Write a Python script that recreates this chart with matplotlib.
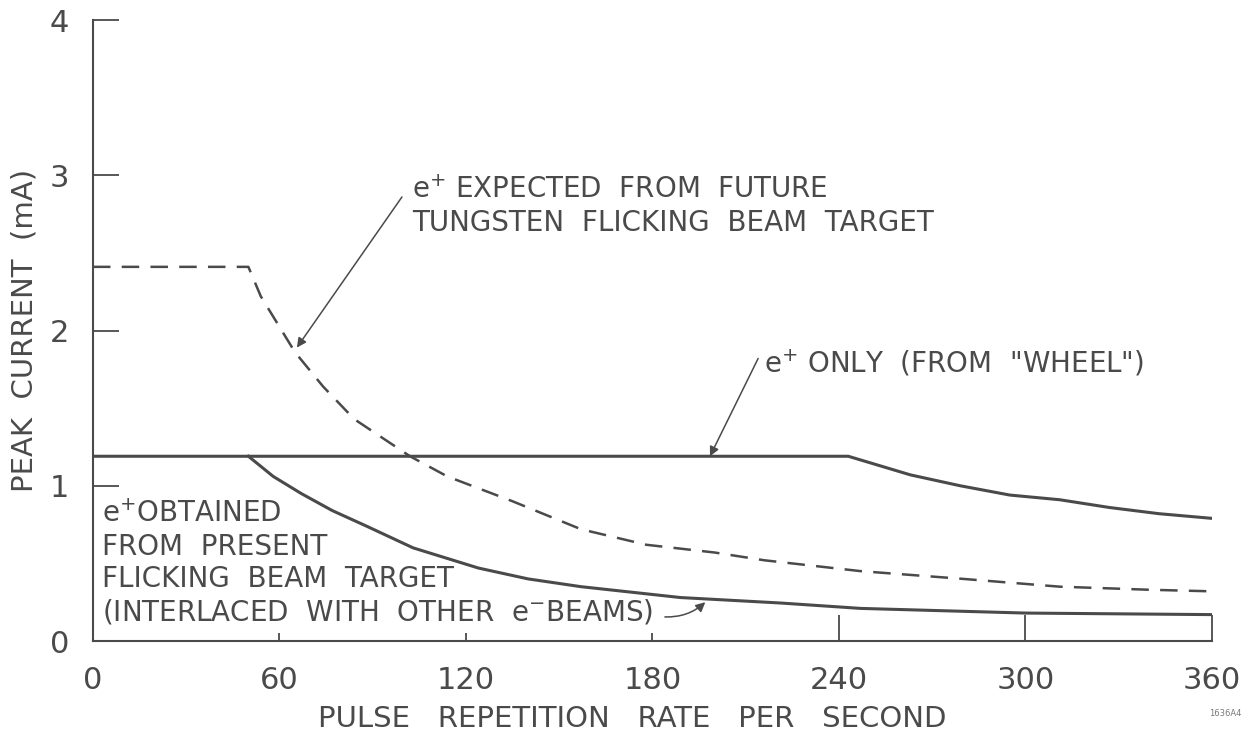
import numpy as np
import matplotlib.pyplot as plt

# peak current vs. pulse repetition rate
ink = '#4a4a4a'

rate_wheel = [0, 243, 263, 279, 295, 311, 327, 343, 360]
cur_wheel = [1.19, 1.19, 1.07, 1.00, 0.94, 0.91, 0.86, 0.82, 0.79]

rate_future = [0, 50, 54, 65, 74, 84, 102, 114, 135, 157, 178, 200, 216, 247, 280, 311, 340, 360]
cur_future = [2.41, 2.41, 2.22, 1.86, 1.64, 1.43, 1.19, 1.06, 0.90, 0.72, 0.62, 0.57, 0.52, 0.45, 0.40, 0.35, 0.33, 0.32]

rate_present = [50, 58, 67, 77, 88, 103, 124, 140, 157, 189, 221, 247, 300, 360]
cur_present = [1.19, 1.06, 0.95, 0.84, 0.74, 0.60, 0.47, 0.40, 0.35, 0.28, 0.245, 0.21, 0.18, 0.17]

xticks = [0, 60, 120, 180, 240, 300, 360]
yticks = [0, 1, 2, 3, 4]

fig = plt.figure(figsize=(12.58, 7.33), dpi=100)
ax = fig.add_axes([0.0739, 0.1255, 0.8895, 0.8472])

ax.plot(rate_wheel, cur_wheel, color=ink, lw=2.2, solid_joinstyle='round')
ax.plot(rate_present, cur_present, color=ink, lw=2.2, solid_joinstyle='round')
ax.plot(rate_future, cur_future, color=ink, lw=1.8, dashes=(7, 4.5))

ax.set_xlim(0, 360)
ax.set_ylim(0, 4)
for s in ['top', 'right']:
    ax.spines[s].set_visible(False)
for s in ['left', 'bottom']:
    ax.spines[s].set_color(ink)
    ax.spines[s].set_linewidth(1.5)

ax.set_xticks(xticks)
ax.set_xticklabels([str(v) for v in xticks])
ax.set_yticks(yticks)
ax.set_yticklabels([str(v) for v in yticks])
ax.tick_params(axis='x', direction='in', length=6, width=1.3, color=ink,
               labelcolor=ink, labelsize=22, pad=18)
ax.tick_params(axis='y', direction='in', length=19, width=1.3, color=ink,
               labelcolor=ink, labelsize=22, pad=17)
# longer ticks from 240 on
for t in ax.xaxis.get_major_ticks()[4:]:
    t.tick1line.set_markersize(19)

ax.set_xlabel('PULSE   REPETITION   RATE   PER   SECOND', fontsize=21, color=ink, va='center')
ax.xaxis.set_label_coords(0.482, -0.126)
ax.set_ylabel('PEAK  CURRENT  (mA)', fontsize=21, color=ink, labelpad=8)

arrow = dict(arrowstyle='-|>', color=ink, lw=1.1, mutation_scale=14, shrinkA=0, shrinkB=0)

ax.annotate('', xy=(65.6, 1.89), xytext=(99.4, 2.86), arrowprops=arrow)
ax.text(102.6, 2.80, '$\\mathregular{e^{+}}$ EXPECTED  FROM  FUTURE\nTUNGSTEN  FLICKING  BEAM  TARGET',
        fontsize=20, color=ink, va='center', ha='left', linespacing=1.2)

ax.annotate('', xy=(198.5, 1.19), xytext=(214, 1.82), arrowprops=arrow)
ax.text(216, 1.79, '$\\mathregular{e^{+}}$ ONLY  (FROM  "WHEEL")',
        fontsize=20, color=ink, va='center', ha='left')

ax.text(3, 0.50, '$\\mathregular{e^{+}}$OBTAINED\nFROM  PRESENT\nFLICKING  BEAM  TARGET\n'
        '(INTERLACED  WITH  OTHER  $\\mathregular{e^{-}}$BEAMS)',
        fontsize=20, color=ink, va='center', ha='left', linespacing=1.2)
ax.annotate('', xy=(197, 0.25), xytext=(184, 0.155),
            arrowprops=dict(arrow, connectionstyle='arc3,rad=0.2'))

fig.text(0.974, 0.023, '1636A4', fontsize=6, color='#777777', ha='center')

fig.savefig('out.png', dpi=100, facecolor='white')
